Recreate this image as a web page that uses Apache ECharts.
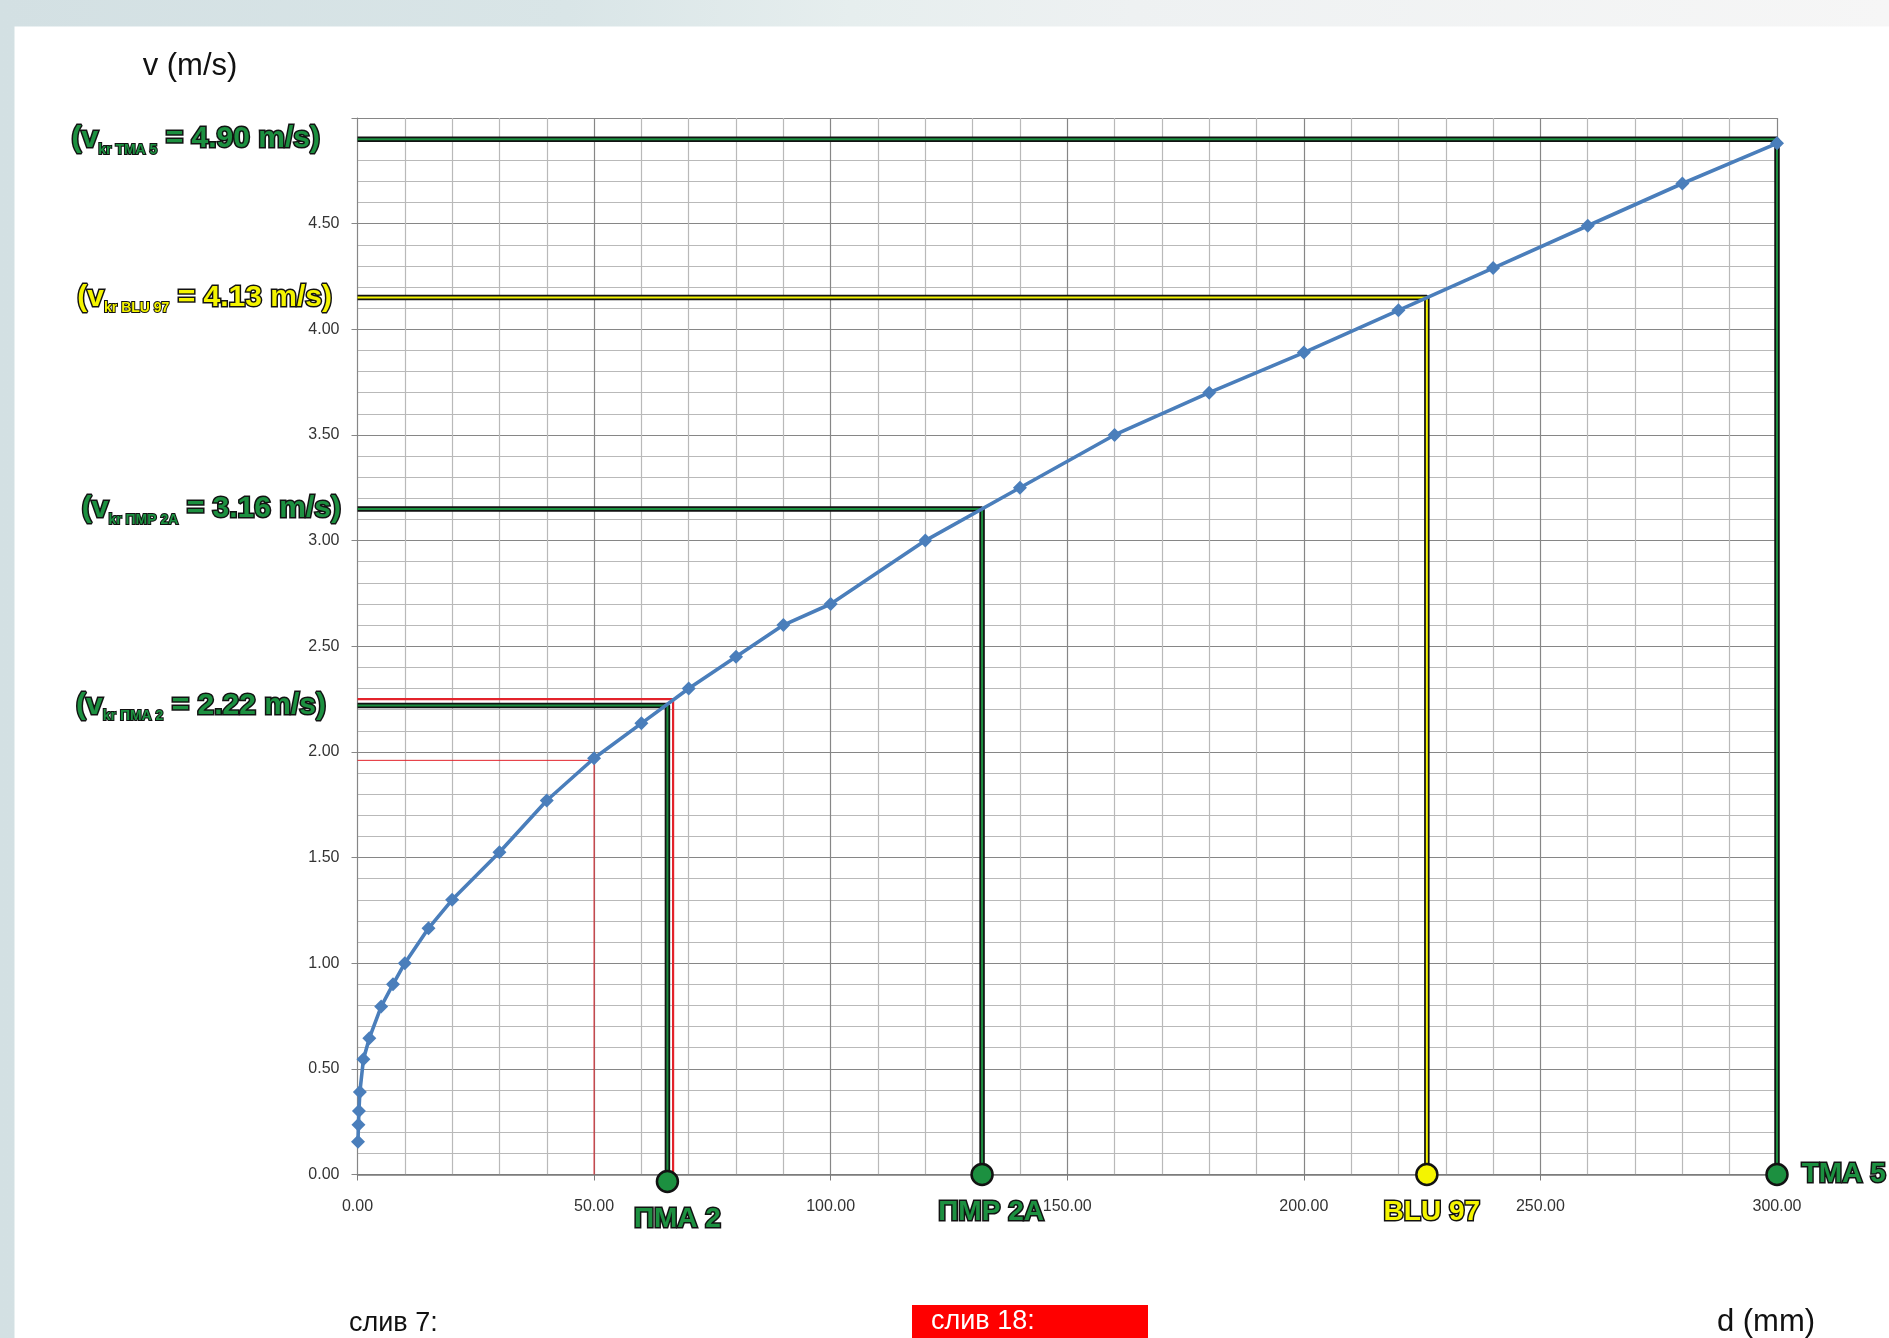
<!DOCTYPE html>
<html><head><meta charset="utf-8">
<script src="https://cdn.jsdelivr.net/npm/echarts/dist/echarts.min.js"></script>
<style>html,body{margin:0;padding:0;width:1889px;height:1338px;overflow:hidden;background:#fff}
#c{width:1889px;height:1338px}</style></head>
<body><div id="c"></div>
<script>
// ---- data ----
const diameters = [0.1, 0.2, 0.3, 0.5, 1.25, 2.5, 5, 7.5, 10, 15, 20, 30, 40, 50, 60, 70, 80, 90, 100, 120, 140, 160, 180, 200, 220, 240, 260, 280, 300];
const velocities = [0.155, 0.235, 0.30, 0.39, 0.545, 0.645, 0.795, 0.90, 1.00, 1.165, 1.30, 1.525, 1.77, 1.97, 2.135, 2.30, 2.45, 2.60, 2.70, 3.00, 3.25, 3.50, 3.70, 3.89, 4.09, 4.29, 4.49, 4.69, 4.88];
const xTickLabels = ['0.00', '50.00', '100.00', '150.00', '200.00', '250.00', '300.00'];
const yTickLabels = ['0.00', '0.50', '1.00', '1.50', '2.00', '2.50', '3.00', '3.50', '4.00', '4.50', ''];
const refNames = ['TMA 5', 'BLU 97', 'ПМР 2А', 'ПМА 2'];
const refD = [300, 226, 132, 65.5];
const refV = [4.90, 4.15, 3.15, 2.22];
const refText = ['4.90', '4.13', '3.16', '2.22'];
const redD = [66.7, 50];
const redV = [2.25, 1.96];
const axisTitleY = 'v (m/s)';
const axisTitleX = 'd (mm)';
const note1 = 'слив 7:';
const note2 = 'слив 18:';

// ---- styles ----
const GREEN = '#1c9040', YELLOW = '#f4f400', OUT = '#121212';
const refColors = [GREEN, YELLOW, GREEN, GREEN];
const leftDist = [37, 25, 16, 31];
const bottomOff = [[0, 0], [5, 0], [9, 0], [10, 0]];
const symOff = [[0, 0], [0, 0], [0, 0], [0, 7]];
const BF = "'Liberation Sans', Arial, sans-serif";

function richFor(color) {
  return {
    a: { fontFamily: BF, fontWeight: 'bold', fontSize: 30, color: color, textBorderColor: OUT, textBorderWidth: 3, lineHeight: 36 },
    s: { fontFamily: BF, fontWeight: 'bold', fontSize: 14, color: color, textBorderColor: OUT, textBorderWidth: 2, lineHeight: 15, verticalAlign: 'bottom' }
  };
}

const series = [];
redD.forEach((d, i) => {
  series.push({
    type: 'line', silent: true, symbol: 'none', z: 4,
    data: [[0, redV[i]], [d, redV[i]], [d, 0]],
    lineStyle: { color: '#e3232b', width: i === 0 ? 2.2 : 1 }
  });
});
refNames.forEach((name, i) => {
  const color = refColors[i];
  series.push({
    type: 'line', silent: true, symbol: 'none', z: 5,
    data: [[0, refV[i]], [refD[i], refV[i]], [refD[i], 0]],
    lineStyle: { color: OUT, width: 5.5 }
  });
  series.push({
    type: 'line', name: name, silent: true, z: 6,
    lineStyle: { color: color, width: 2 },
    data: [
      {
        value: [0, refV[i]], symbol: 'circle', symbolSize: 1,
        itemStyle: { color: 'rgba(0,0,0,0)', borderWidth: 0 },
        label: {
          show: true, position: 'left', distance: leftDist[i],
          formatter: '{a|(v}{s|kr ' + name + '}{a| = ' + refText[i] + ' m/s)}',
          rich: richFor(color)
        }
      },
      { value: [refD[i], refV[i]], symbol: 'none' },
      {
        value: [refD[i], 0], symbol: 'circle', symbolSize: 21, symbolOffset: symOff[i],
        itemStyle: { color: color, borderColor: OUT, borderWidth: 2.5, opacity: 1 },
        label: {
          show: true, position: i === 0 ? 'right' : 'bottom', distance: i === 0 ? 13 : 12,
          offset: bottomOff[i],
          formatter: name,
          fontFamily: BF, fontWeight: 'bold', fontSize: 28, color: color,
          textBorderColor: OUT, textBorderWidth: 3
        }
      }
    ]
  });
});
series.push({
  type: 'line', name: 'v', z: 10, silent: true,
  data: diameters.map((d, i) => [d, velocities[i]]),
  symbol: 'diamond', symbolSize: 14,
  lineStyle: { color: '#4a7ebb', width: 3.6 },
  itemStyle: { color: '#4a7ebb' }
});

const chart = echarts.init(document.getElementById('c'), null, { renderer: 'canvas' });
chart.setOption({
  animation: false,
  backgroundColor: 'transparent',
  grid: { left: 357.5, right: 112, top: 118, bottom: 163.5, containLabel: false },
  graphic: [
    { type: 'rect', z: -100, silent: true, shape: { x: 0, y: 0, width: 1889, height: 1338 },
      style: { fill: new echarts.graphic.LinearGradient(0, 0, 1, 0, [
        { offset: 0, color: '#d3e0e3' }, { offset: 0.3, color: '#d9e5e7' },
        { offset: 0.45, color: '#e6eeee' }, { offset: 0.6, color: '#eef1f2' }, { offset: 1, color: '#f6f6f6' }]) } },
    { type: 'rect', z: -99, silent: true, shape: { x: 14.5, y: 26.5, width: 1880, height: 1320 }, style: { fill: '#ffffff' } },
    { type: 'text', z: 50, x: 190, y: 66, style: { text: axisTitleY, font: '31px ' + BF, fill: '#111', align: 'center', verticalAlign: 'middle' } },
    { type: 'text', z: 50, x: 1766, y: 1322, style: { text: axisTitleX, font: '31px ' + BF, fill: '#111', align: 'center', verticalAlign: 'middle' } },
    { type: 'text', z: 50, x: 349, y: 1324, style: { text: note1, font: '27px ' + BF, fill: '#111', align: 'left', verticalAlign: 'middle' } },
    { type: 'rect', z: 49, shape: { x: 912, y: 1305, width: 236, height: 40 }, style: { fill: '#ff0000' } },
    { type: 'text', z: 50, x: 931, y: 1322, style: { text: note2, font: '27px ' + BF, fill: '#ffffff', align: 'left', verticalAlign: 'middle' } }
  ],
  xAxis: {
    type: 'value', min: 0, max: 300, interval: 50,
    axisLine: { show: true, onZero: false, lineStyle: { color: '#7a7a7a', width: 1.5 } },
    axisTick: { show: true, length: 6, lineStyle: { color: '#7a7a7a' } },
    axisLabel: { margin: 24, fontSize: 16, color: '#333', fontFamily: BF,
      formatter: (v) => xTickLabels[Math.round(v / 50)] },
    splitLine: { show: true, lineStyle: { color: '#868686', width: 1.2 } },
    minorTick: { show: false, splitNumber: 5 },
    minorSplitLine: { show: true, lineStyle: { color: '#b9b9b9', width: 1.2 } }
  },
  yAxis: {
    type: 'value', min: 0, max: 5, interval: 0.5,
    axisLine: { show: true, lineStyle: { color: '#868686', width: 1 } },
    axisTick: { show: true, length: 6, lineStyle: { color: '#868686' } },
    axisLabel: { margin: 18, fontSize: 16, color: '#333', fontFamily: BF,
      formatter: (v) => yTickLabels[Math.round(v / 0.5)] },
    splitLine: { show: true, lineStyle: { color: '#868686', width: 1.2 } },
    minorTick: { show: false, splitNumber: 5 },
    minorSplitLine: { show: true, lineStyle: { color: '#b9b9b9', width: 1.2 } }
  },
  series: series
});
</script></body></html>
